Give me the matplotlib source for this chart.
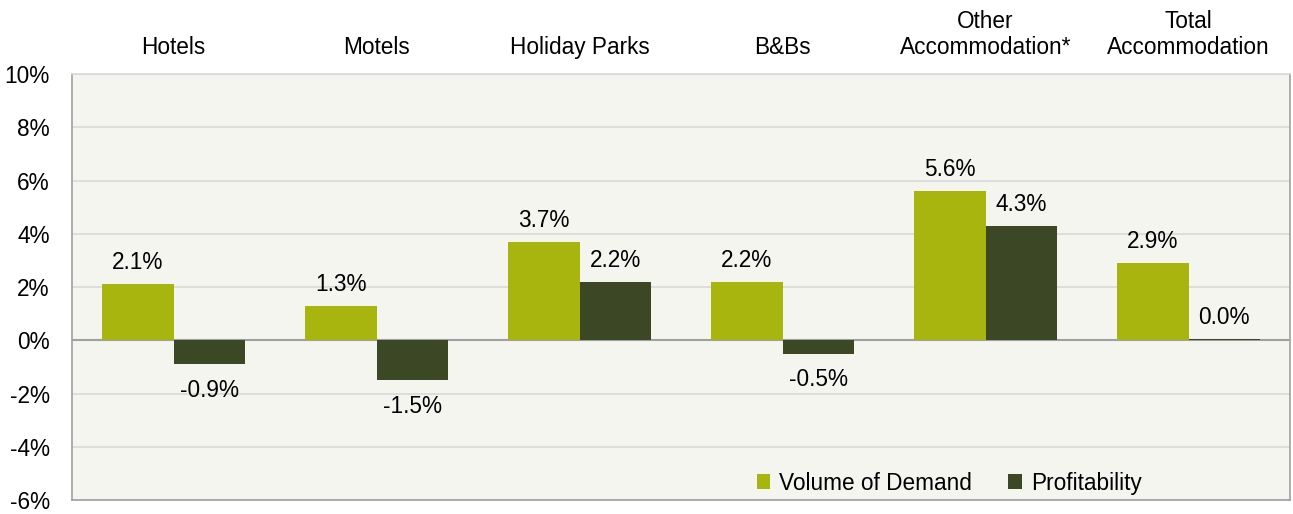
import matplotlib
matplotlib.use("Agg")
import matplotlib.pyplot as plt
import numpy as np

categories = ["Hotels", "Motels", "Holiday Parks", "B&Bs", "Other\nAccommodation*", "Total\nAccommodation"]
demand = [2.1, 1.3, 3.7, 2.2, 5.6, 2.9]
profit = [-0.9, -1.5, 2.2, -0.5, 4.3, 0.04]
series_names = ["Volume of Demand", "Profitability"]
yticks = [-6, -4, -2, 0, 2, 4, 6, 8, 10]

plt.rcParams['font.family'] = ['Liberation Sans', 'DejaVu Sans']
FS = 16.3

fig = plt.figure(figsize=(12.93, 5.14), dpi=100)
ax = fig.add_axes([0.0557, 0.027, 0.9420, 0.829])
ax.set_facecolor("#F5F5F0")

x = np.arange(len(categories))
w = 0.35
c1, c2 = "#A8B50E", "#3B4725"
b1 = ax.bar(x - w/2, demand, w, color=c1, label=series_names[0], zorder=3)
b2 = ax.bar(x + w/2, profit, w, color=c2, label=series_names[1], zorder=3)

for bars, vals in ((b1, demand), (b2, profit)):
    for r, v in zip(bars, vals):
        cx = r.get_x() + r.get_width()/2
        if v >= 0:
            ax.text(cx, v + 0.38, f"{v:.1f}%", ha="center", va="bottom", fontsize=FS)
        else:
            ax.text(cx, v - 0.55, f"{v:.1f}%", ha="center", va="top", fontsize=FS)

ax.set_ylim(-6, 10)
ax.set_xlim(-0.5, len(categories) - 0.5)
ax.set_yticks(yticks)
ax.set_yticklabels([f"{t}%" for t in yticks], fontsize=FS)
ax.yaxis.grid(True, color="#D9D9D9", linewidth=1.2, zorder=0)
ax.axhline(0, color="#A0A0A0", linewidth=1.5, zorder=2)
ax.tick_params(axis="y", length=0, pad=16)
ax.xaxis.tick_top()
ax.set_xticks(x)
ax.set_xticklabels(categories, fontsize=FS, linespacing=1.15)
ax.tick_params(axis="x", length=0, pad=11)
for s in ax.spines.values():
    s.set_color("#A0A0A0")
    s.set_linewidth(1.2)
ax.spines["top"].set_color("#D9D9D9")

ax.legend(loc="lower right", bbox_to_anchor=(0.895, -0.035), ncol=2, frameon=False, fontsize=FS,
          handlelength=0.6, handleheight=0.6, handletextpad=0.4, columnspacing=1.6)

fig.savefig("out.png", dpi=100, facecolor="white")
